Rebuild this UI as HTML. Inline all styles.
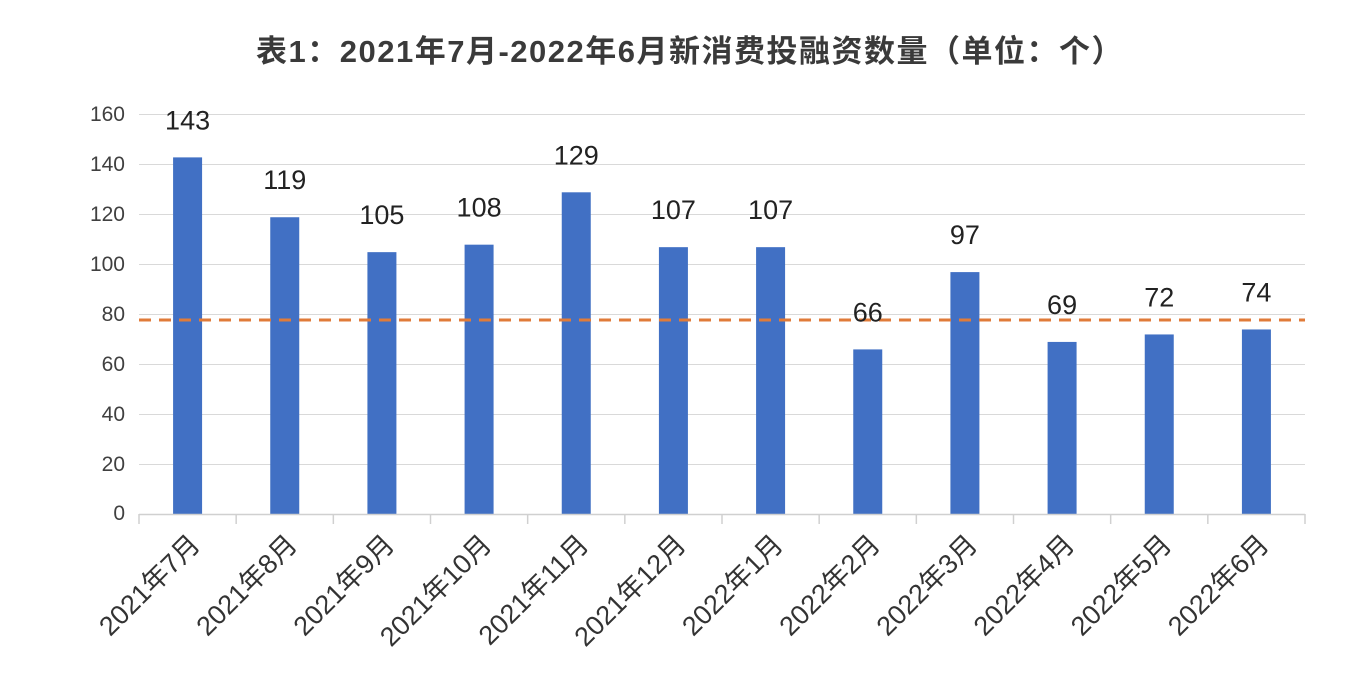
<!DOCTYPE html>
<html><head><meta charset="utf-8"><style>
body{margin:0;background:#fff;}
svg{display:block;font-family:"Liberation Sans","Noto Sans CJK SC",sans-serif;}
</style></head><body>
<svg width="1360" height="678" viewBox="0 0 1360 678">
<rect width="1360" height="678" fill="#fff"/>
<text x="690" y="62" text-anchor="middle" font-size="31" font-weight="bold" fill="#3a3a3a" letter-spacing="1.5">表1：2021年7月-2022年6月新消费投融资数量（单位：个）</text>
<g stroke="#d9d9d9" stroke-width="1">
<line x1="139" x2="1305" y1="114.5" y2="114.5"/>
<line x1="139" x2="1305" y1="164.5" y2="164.5"/>
<line x1="139" x2="1305" y1="214.5" y2="214.5"/>
<line x1="139" x2="1305" y1="264.5" y2="264.5"/>
<line x1="139" x2="1305" y1="314.5" y2="314.5"/>
<line x1="139" x2="1305" y1="364.5" y2="364.5"/>
<line x1="139" x2="1305" y1="414.5" y2="414.5"/>
<line x1="139" x2="1305" y1="464.5" y2="464.5"/>
</g>
<g font-size="21" fill="#404040" text-anchor="end">
<text x="125" y="121">160</text><text x="125" y="171">140</text><text x="125" y="221">120</text>
<text x="125" y="271">100</text><text x="125" y="321">80</text><text x="125" y="371">60</text>
<text x="125" y="421">40</text><text x="125" y="471">20</text><text x="125" y="520">0</text>
</g>
<g id="bars"></g>
<line x1="139" x2="1305" y1="514.5" y2="514.5" stroke="#d0d0d0" stroke-width="1.5"/>
<line x1="139" x2="1305" y1="320" y2="320" stroke="#E07B39" stroke-width="3" stroke-dasharray="12,8"/>
<g id="labels"></g>
</svg>
<script>
(function(){
var v=[143,119,105,108,129,107,107,66,97,69,72,74];
var n=["2021年7月","2021年8月","2021年9月","2021年10月","2021年11月","2021年12月","2022年1月","2022年2月","2022年3月","2022年4月","2022年5月","2022年6月"];
var ns="http://www.w3.org/2000/svg",b=document.getElementById("bars"),l=document.getElementById("labels");
var w=(1305-139)/12;
function el(t,a,p,tx){var e=document.createElementNS(ns,t);for(var k in a)e.setAttribute(k,a[k]);if(tx)e.textContent=tx;p.appendChild(e);return e;}
for(var i=0;i<=12;i++){var x=139+i*w;el("line",{x1:x,x2:x,y1:514,y2:524,stroke:"#d0d0d0","stroke-width":1.5},b);}
for(var i=0;i<12;i++){
 var c=139+w*(i+0.5),ty=514-v[i]*2.4938;
 el("rect",{x:c-14.5,y:ty,width:29,height:514-ty,fill:"#4170C4"},b);
 el("text",{x:c,y:ty-28,"text-anchor":"middle","font-size":27,fill:"#222"},l,String(v[i]));
 el("text",{x:0,y:0,"text-anchor":"end","font-size":27,fill:"#333",transform:"translate("+(c+14)+",546) rotate(-45)"},l,n[i]);
}
})();
</script>
</body></html>
